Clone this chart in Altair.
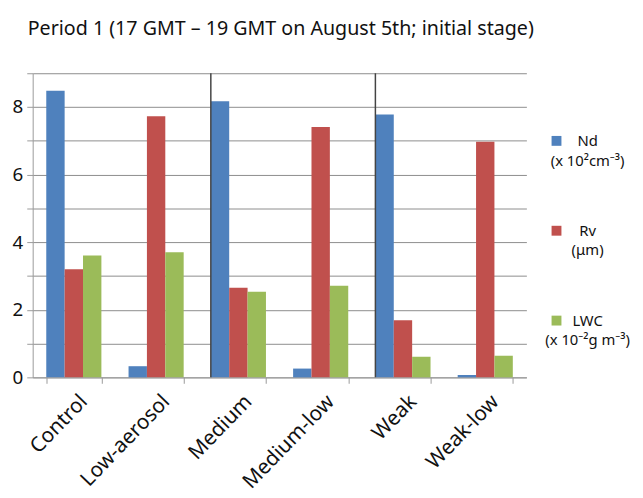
import altair as alt
import pandas as pd

categories = ["Control", "Low-aerosol", "Medium", "Medium-low", "Weak", "Weak-low"]
series_names = ["Nd", "Rv", "LWC"]
nd_values = [8.48, 0.33, 8.17, 0.26, 7.78, 0.07]
rv_values = [3.20, 7.73, 2.65, 7.41, 1.69, 6.97]
lwc_values = [3.61, 3.70, 2.53, 2.71, 0.61, 0.64]
series_colors = ["#4F81BD", "#C0504D", "#9BBB59"]
divider_before = ["Medium", "Weak"]
y_ticks = list(range(0, 10))

rows = []
for name, vals in zip(series_names, [nd_values, rv_values, lwc_values]):
    for c, v in zip(categories, vals):
        rows.append({"case": c, "series": name, "value": v})
df = pd.DataFrame(rows)
div_df = pd.DataFrame({"case": divider_before})

FONT = "Noto Sans"

label_expr = (
    "datum.label == 'Nd' ? ['Nd', '(x 10²cm⁻³)'] : "
    "datum.label == 'Rv' ? ['Rv', '(μm)'] : ['LWC', '(x 10⁻²g m⁻³)']"
)

x_scale = alt.Scale(domain=categories, paddingInner=0.33, paddingOuter=0.165)

bars = alt.Chart(df).mark_bar().encode(
    x=alt.X(
        "case:N",
        scale=x_scale,
        sort=categories,
        title=None,
        axis=alt.Axis(
            labelAngle=-46,
            labelFontSize=21,
            labelFont=FONT,
            labelColor="#111",
            tickBand="extent",
            tickSize=6,
            tickColor="#999",
            domainColor="#999",
            labelPadding=15,
            labelOffset=10,
            grid=False,
        ),
    ),
    xOffset=alt.XOffset("series:N", sort=series_names, scale=alt.Scale(domain=series_names)),
    y=alt.Y(
        "value:Q",
        scale=alt.Scale(domain=[0, 9], nice=False),
        title=None,
        axis=alt.Axis(
            values=y_ticks,
            labelExpr="datum.value % 2 == 0 ? datum.label : ''",
            labelFontSize=19,
            labelFont=FONT,
            labelColor="#111",
            tickSize=6,
            tickColor="#999",
            domainColor="#999",
            gridColor="#8c8c8c",
            gridWidth=1,
            labelPadding=4,
        ),
    ),
    color=alt.Color(
        "series:N",
        sort=series_names,
        scale=alt.Scale(domain=series_names, range=series_colors),
        legend=alt.Legend(
            title=None,
            orient="none",
            legendX=523,
            legendY=61,
            symbolType="square",
            symbolSize=100,
            symbolStrokeWidth=0,
            symbolOpacity=1,
            labelExpr=label_expr,
            labelAlign="center",
            labelOffset=24,
            labelFontSize=15,
            labelFont=FONT,
            labelColor="#111",
            rowPadding=55,
            padding=0,
            labelLimit=200,
        ),
    ),
)

dividers = alt.Chart(div_df).mark_rule(color="#444", strokeWidth=1.5).encode(
    x=alt.X("case:N", scale=x_scale, sort=categories, bandPosition=0),
)

chart = (
    alt.layer(bars, dividers)
    .properties(
        width=500,
        height=308,
        autosize=alt.AutoSizeParams(type="none"),
        padding={"left": 25, "top": 63, "right": 110, "bottom": 111},
        title=alt.TitleParams(
            "Period 1 (17 GMT – 19 GMT on August 5th; initial stage)",
            anchor="start",
            frame="group",
            font=FONT,
            fontSize=19.9,
            fontWeight="normal",
            color="#111",
            offset=34,
            dx=-5,
        ),
    )
    .configure(style={"guide-label": {"lineHeight": 20}})
    .configure_view(stroke=None)
    .configure_axis(gridColor="#8c8c8c")
)

chart.save("out.html", embed_options={"renderer": "svg", "actions": False})
